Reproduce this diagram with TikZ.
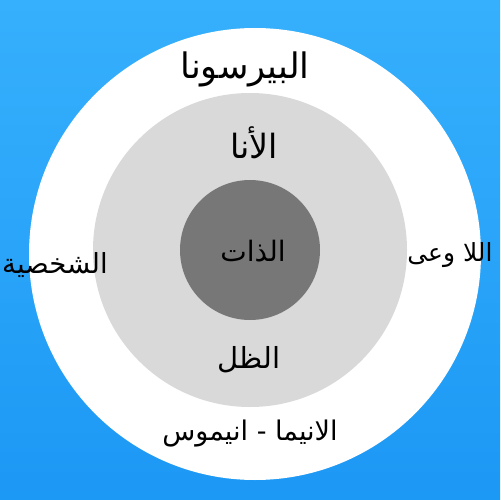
\documentclass[tikz,border=0pt]{standalone}
\usepackage{fontspec}
\TeXXeTstate=1
\newfontfamily\arabicfont[Script=Arabic]{DejaVu Sans}
\definecolor{skytop}{RGB}{54,176,252}
\definecolor{skybottom}{RGB}{28,152,245}
\definecolor{egogray}{RGB}{217,217,217}
\definecolor{selfgray}{RGB}{119,119,119}
\tikzset{
	label/.style={anchor=base,inner sep=0pt,font=\arabicfont\fontsize{#1}{#1}\selectfont},
	label/.default=15
}
\begin{document}
\begin{tikzpicture}[x=0.02cm,y=-0.02cm]
		% background and the three rings
		\shade[top color=skytop,bottom color=skybottom] (0,0) rectangle (500,500);
		\fill[white] (255,254) circle[radius=226];
		\fill[egogray] (250,250) circle[radius=157];
		\fill[selfgray] (250,250) circle[radius=70];
		% labels
		\node[label=20] (persona) at (245,79) {\beginR البيرسونا\endR};
		\node[label=19] (ego) at (254,158) {\beginR الأنا\endR};
		\node[label=16] (self) at (253,261) {\beginR الذات\endR};
		\node[label=15.7] (personality) at (55,273) {\beginR الشخصية\endR};
		\node[label=14.2] (unconscious) at (450,261) {\beginR اللا وعى\endR};
		\node[label=16.5] (shadow) at (249,368) {\beginR الظل\endR};
		\node[label=15.4] (anima) at (250,440) {\beginR الانيما - انيموس\endR};
	\end{tikzpicture}
\end{document}
